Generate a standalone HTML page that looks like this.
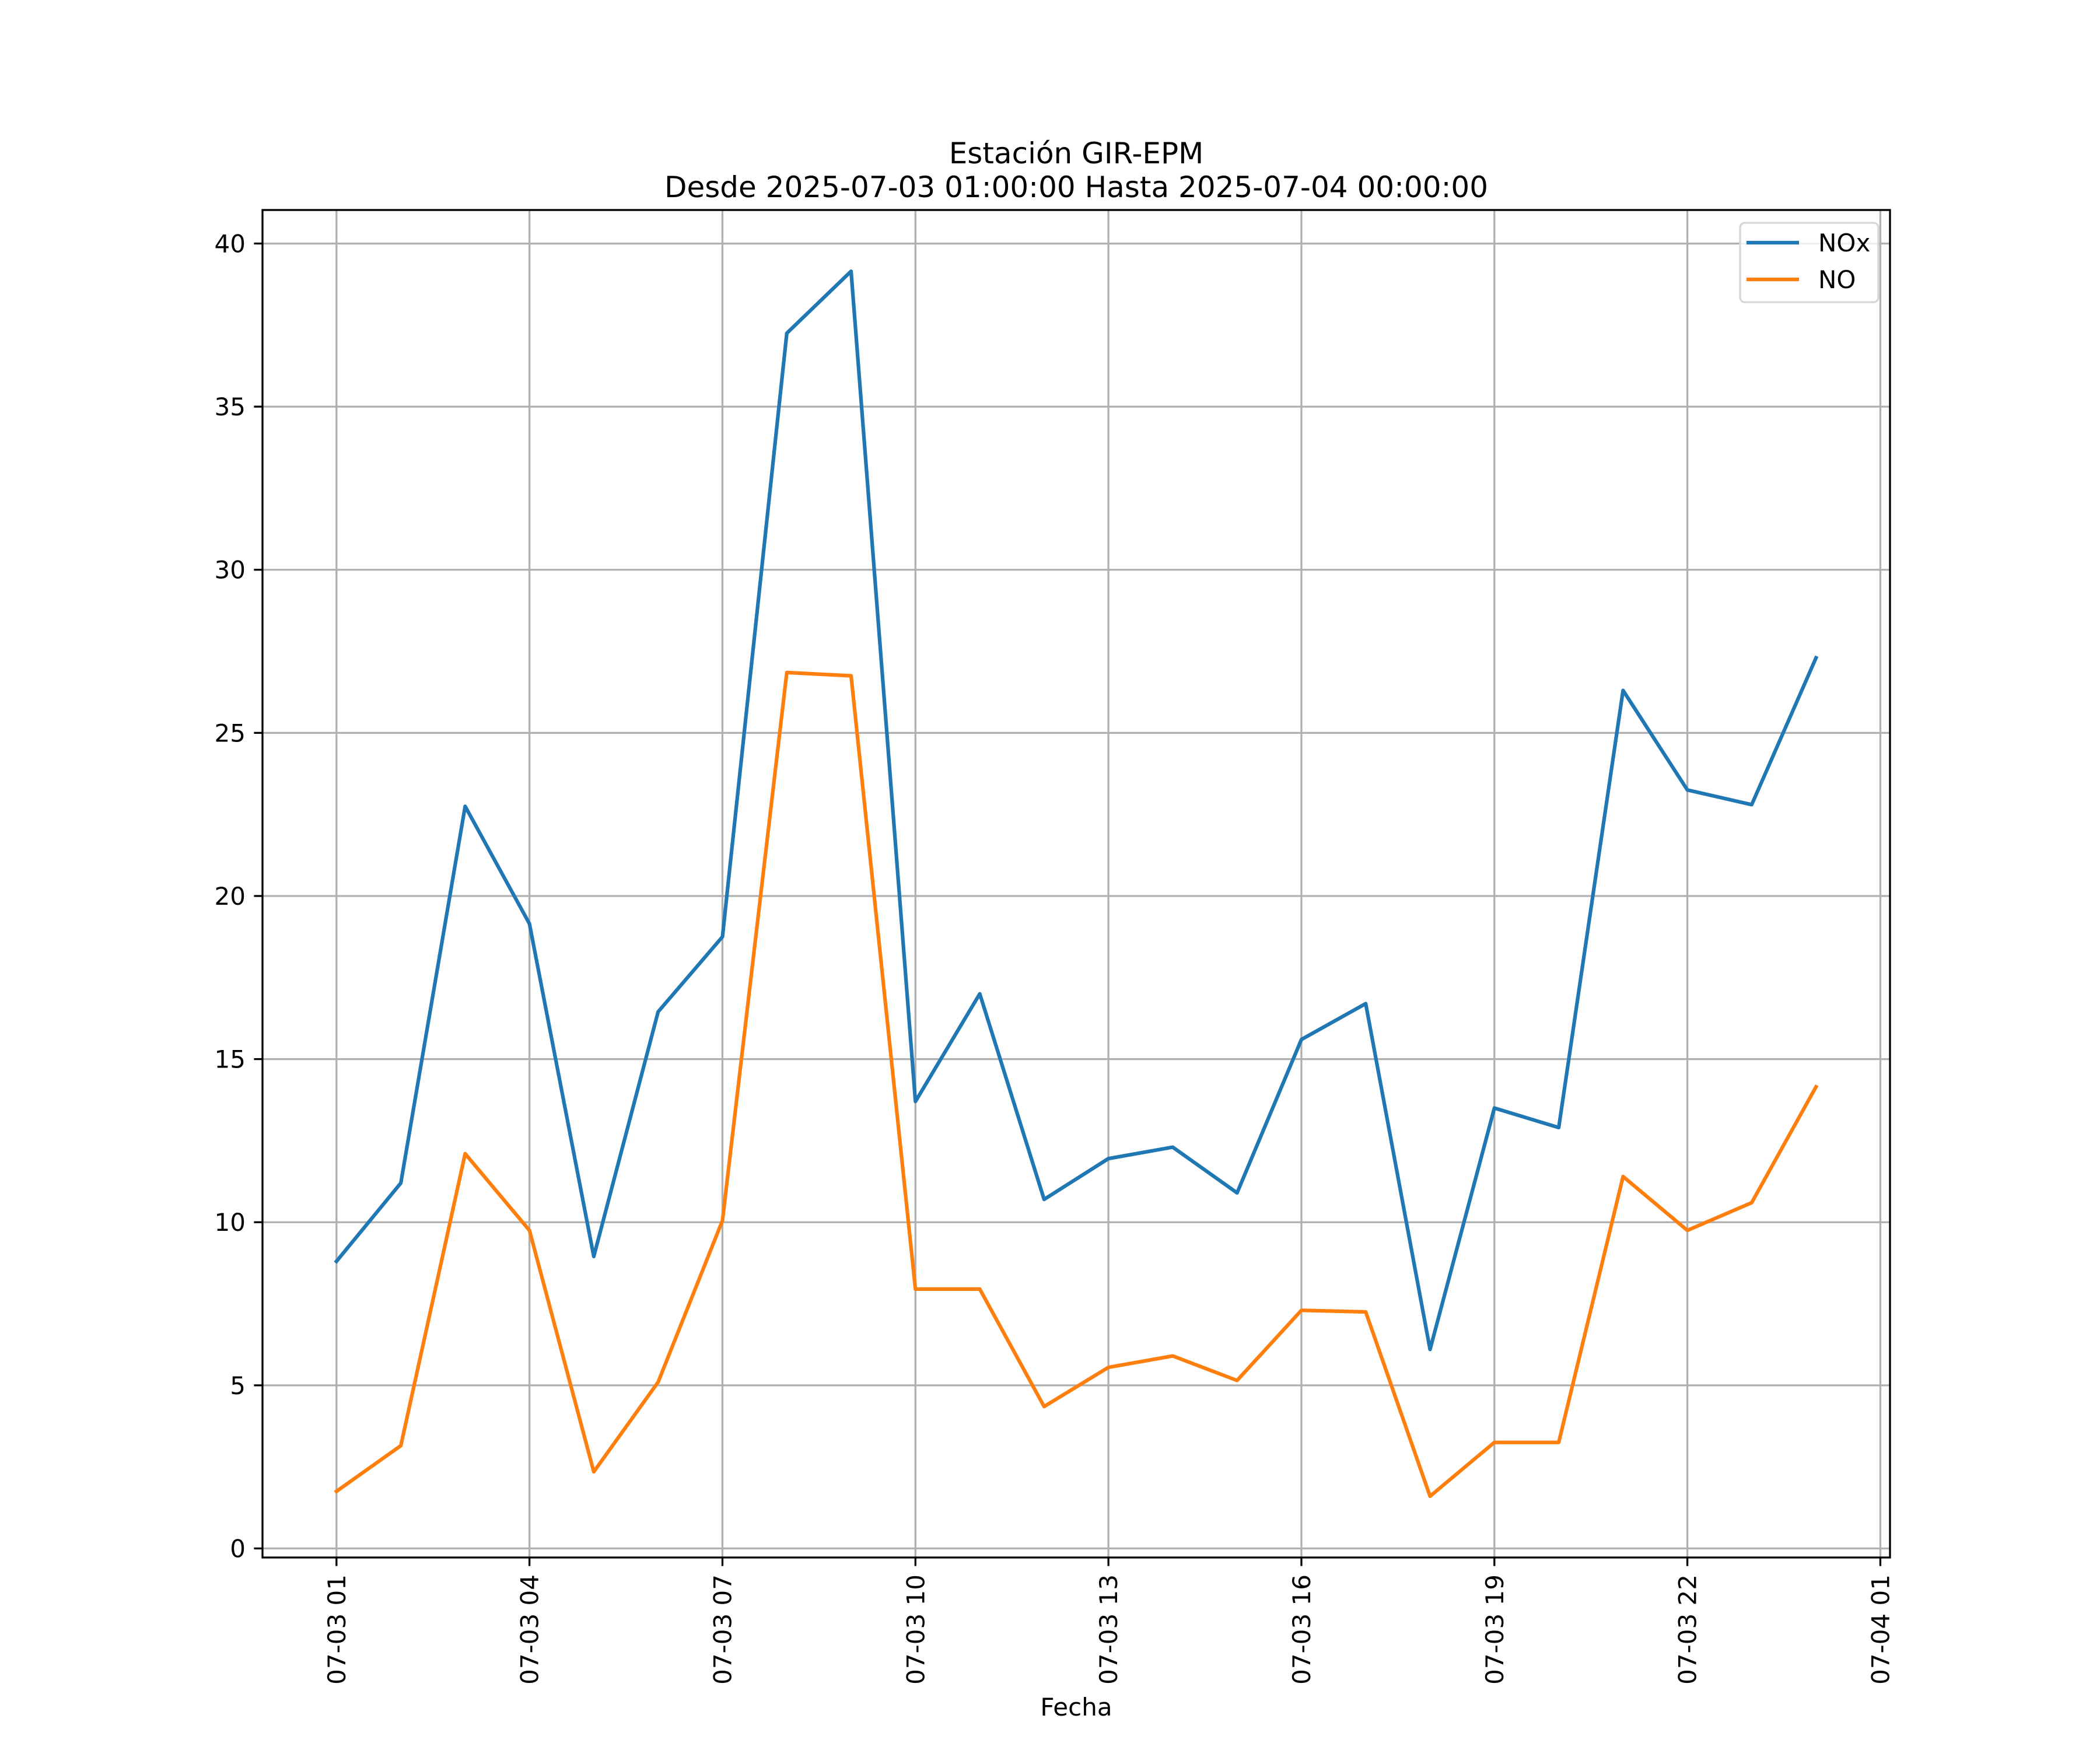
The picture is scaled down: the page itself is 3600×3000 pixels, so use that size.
<!DOCTYPE html>
<html><head><meta charset="utf-8"><style>html,body{margin:0;padding:0;background:#fff}svg{display:block}text{font-family:"DejaVu Sans","Liberation Sans",sans-serif}</style></head>
<body>
<svg id="chart" width="3600" height="3000" viewBox="0 0 3600 3000" xmlns="http://www.w3.org/2000/svg">
<rect width="3600" height="3000" fill="#fff"/>
<text x="1845" y="280" font-size="50" text-anchor="middle">Estación GIR-EPM</text>
<text x="1845" y="338" font-size="50" text-anchor="middle">Desde 2025-07-03 01:00:00 Hasta 2025-07-04 00:00:00</text>
<g id="grid"></g>
<g id="series"></g>
<rect x="450" y="360" width="2790" height="2310" fill="none" stroke="#000" stroke-width="3.3"/>
<g id="ticks"></g>
<text x="1845" y="2941" font-size="42" text-anchor="middle">Fecha</text>
<g>
<rect x="2983" y="382" width="237" height="136" rx="8" fill="#fff" fill-opacity="0.8" stroke="#d6d6d6" stroke-width="3.3"/>
<line x1="2994" y1="416" x2="3084" y2="416" stroke="#1f77b4" stroke-width="6.25"/>
<text x="3117" y="431" font-size="42">NOx</text>
<line x1="2994" y1="479" x2="3084" y2="479" stroke="#ff7f0e" stroke-width="6.25"/>
<text x="3117" y="494" font-size="42">NO</text>
</g>
</svg>
<script>
const hours = [1,2,3,4,5,6,7,8,9,10,11,12,13,14,15,16,17,18,19,20,21,22,23,24];
const noxValues = [8.8,11.2,22.75,19.15,8.95,16.45,18.75,37.25,39.15,13.7,17.0,10.7,11.95,12.3,10.9,15.6,16.7,6.1,13.5,12.9,26.3,23.25,22.8,27.3];
const noValues = [1.75,3.15,12.1,9.75,2.35,5.1,10.05,26.85,26.75,7.95,7.95,4.35,5.55,5.9,5.15,7.3,7.25,1.6,3.25,3.25,11.4,9.75,10.6,14.15];
const yTicks = [0,5,10,15,20,25,30,35,40];
const xTickHours = [1,4,7,10,13,16,19,22,25];
const xTickLabels = ["07-03 01","07-03 04","07-03 07","07-03 10","07-03 13","07-03 16","07-03 19","07-03 22","07-04 01"];

const NS = "http://www.w3.org/2000/svg";
const L = 450, R = 3240, T = 360, B = 2670;
const allV = noxValues.concat(noValues);
const vmin = Math.min(...allV), vmax = Math.max(...allV);
const ym = (vmax - vmin) * 0.05;
const y0 = vmin - ym, y1 = vmax + ym;
const hmin = Math.min(...hours), hmax = Math.max(...hours);
const xm = (hmax - hmin) * 0.05;
const x0 = hmin - xm, x1 = hmax + xm;
function xs(h){ return L + (h - x0) / (x1 - x0) * (R - L); }
function ys(v){ return B - (v - y0) / (y1 - y0) * (B - T); }
function mk(tag, attrs, parent){ const e = document.createElementNS(NS, tag); for (const k in attrs) e.setAttribute(k, attrs[k]); parent.appendChild(e); return e; }

const grid = document.getElementById('grid');
const ticks = document.getElementById('ticks');
yTicks.forEach((v, i) => {
  const y = ys(v);
  const g = mk('line', {x1:L, x2:R, y1:y, y2:y, stroke:'#b0b0b0', 'stroke-width':3.3}, grid);
  
  
  const t = mk('line', {x1:L-14.6, x2:L, y1:y, y2:y, stroke:'#000', 'stroke-width':3.3}, ticks);
  
  
  const tx = mk('text', {x:L-29, y:y+15, 'font-size':42, 'text-anchor':'end'}, ticks);
  tx.textContent = String(v);
  
  
});
xTickHours.forEach((h, i) => {
  const x = xs(h);
  const g = mk('line', {x1:x, x2:x, y1:T, y2:B, stroke:'#b0b0b0', 'stroke-width':3.3}, grid);
  
  
  const t = mk('line', {x1:x, x2:x, y1:B, y2:B+14.6, stroke:'#000', 'stroke-width':3.3}, ticks);
  
  
  const tx = mk('text', {x:0, y:0, 'font-size':42, 'text-anchor':'end', transform:'translate(' + (x+15) + ',' + (B+29) + ') rotate(-90)'}, ticks);
  tx.textContent = xTickLabels[i];
  
  
});
const series = document.getElementById('series');
[[noxValues, '#1f77b4', 'nox-line'], [noValues, '#ff7f0e', 'no-line']].forEach(s => {
  const pts = hours.map((h, i) => xs(h).toFixed(1) + ',' + ys(s[0][i]).toFixed(1)).join(' ');
  const p = mk('polyline', {points:pts, fill:'none', stroke:s[1], 'stroke-width':6.25, 'stroke-linejoin':'round', 'stroke-linecap':'square'}, series);
  
  
});
</script>
</body></html>
